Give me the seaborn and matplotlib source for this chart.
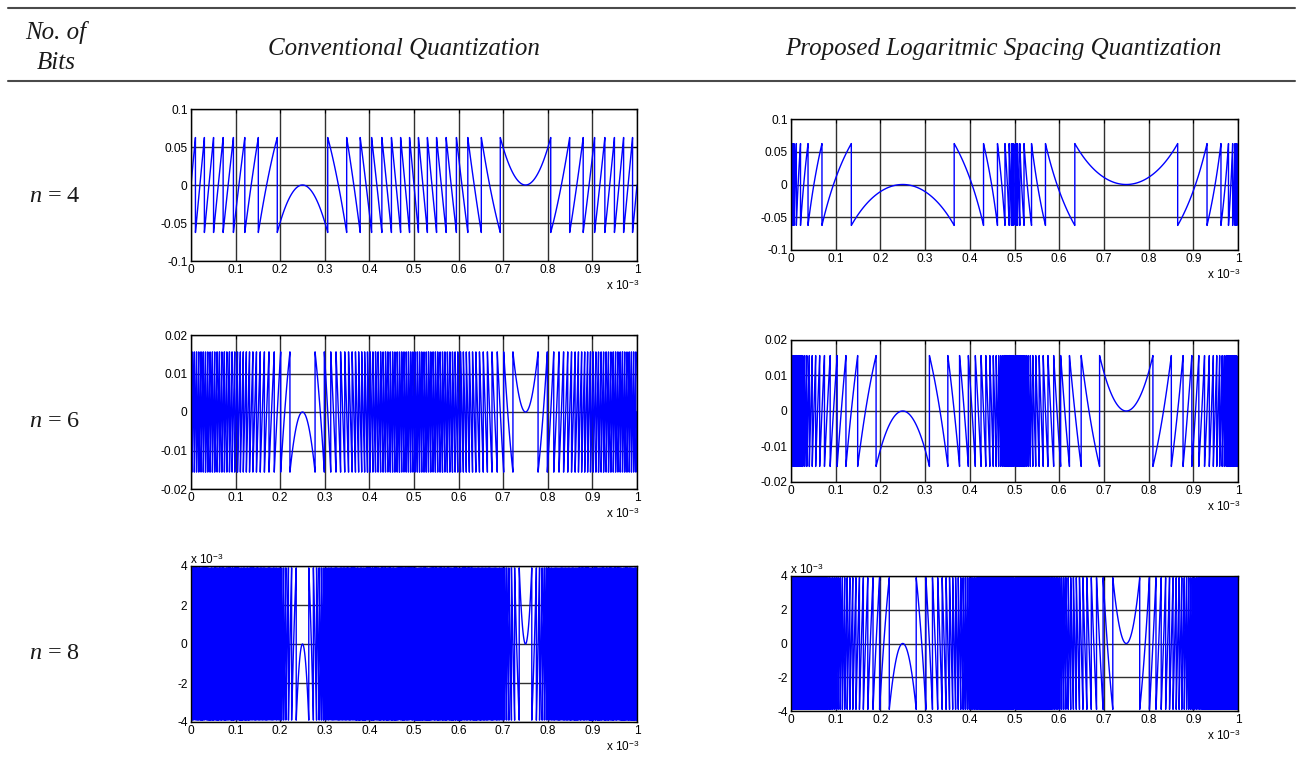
import numpy as np
import pandas as pd
import matplotlib
matplotlib.use("Agg")
import matplotlib.pyplot as plt
from matplotlib.lines import Line2D
import seaborn as sns

# ---------------- data ----------------
bits = [4, 6, 8]                       # rows: n = 4, 6, 8
signal_freq_hz = 1000.0                # one sine period fills the 1 ms window
window_s = 1e-3
log_floor = 0.01                       # proposed scheme: levels log-spaced over |x| in [0.01, 1]
n_samples = 200001

column_titles = ["Conventional Quantization",
                 "Proposed Logaritmic Spacing Quantization"]
header_bits = ["No. of", "Bits"]

ylims = [0.1, 0.02, 0.004]
ytick_values = [[-0.1, -0.05, 0, 0.05, 0.1],
                [-0.02, -0.01, 0, 0.01, 0.02],
                [-0.004, -0.002, 0, 0.002, 0.004]]
ytick_labels = [["-0.1", "-0.05", "0", "0.05", "0.1"],
                ["-0.02", "-0.01", "0", "0.01", "0.02"],
                ["-4", "-2", "0", "2", "4"]]
xtick_values_ms = [0, 0.1, 0.2, 0.3, 0.4, 0.5, 0.6, 0.7, 0.8, 0.9, 1.0]
xtick_labels = ["0", "0.1", "0.2", "0.3", "0.4", "0.5", "0.6", "0.7", "0.8", "0.9", "1"]
y_offset_rows = [False, False, True]   # which rows carry the "x 10^-3" y multiplier

# ---------------- quantization error signals ----------------
t = np.linspace(0.0, window_s, n_samples)
x = np.sin(2 * np.pi * signal_freq_hz * t)


def conventional_error(sig, nb):
    step = 2.0 / 2 ** nb
    return sig - step * np.round(sig / step)


def log_spacing_error(sig, nb):
    step = 2.0 / 2 ** nb
    mag = np.maximum(np.abs(sig), log_floor)
    c = np.sign(sig) * np.clip(1.0 + np.log10(mag) / (-np.log10(log_floor)), 0.0, 1.0)
    return c - step * np.round(c / step)


frames = []
for nb in bits:
    frames.append(pd.DataFrame({"t": t, "err": conventional_error(x, nb), "bits": nb, "scheme": 0}))
    frames.append(pd.DataFrame({"t": t, "err": log_spacing_error(x, nb), "bits": nb, "scheme": 1}))
df = pd.concat(frames, ignore_index=True)

# ---------------- style ----------------
sns.set_style("white")
plt.rcParams["font.family"] = ["Liberation Sans", "DejaVu Sans"]
plt.rcParams["mathtext.fontset"] = "custom"
plt.rcParams["mathtext.rm"] = "Liberation Serif"
plt.rcParams["mathtext.it"] = "Liberation Serif:italic"
plt.rcParams["mathtext.sf"] = "Liberation Sans"
plt.rcParams["path.simplify"] = False
plt.rcParams["agg.path.chunksize"] = 20000

W, H = 1301, 763
fig = plt.figure(figsize=(W / 100, H / 100), dpi=100)
fig.patch.set_facecolor("white")


def fx(px):
    return px / W


def fy(py):
    return 1 - py / H


# table rules
for yy in (7.5, 80.5):
    fig.add_artist(Line2D([fx(8), fx(1295)], [fy(yy), fy(yy)], transform=fig.transFigure,
                          color="#4a4a4a", lw=1.5))

serif_it = dict(family="Liberation Serif", style="italic", fontsize=18, color="#1a1a1a")
fig.text(fx(56), fy(39), header_bits[0], ha="center", va="baseline", **serif_it)
fig.text(fx(56), fy(69), header_bits[1], ha="center", va="baseline", **serif_it)
fig.text(fx(403.5), fy(55), column_titles[0], ha="center", va="baseline", **serif_it)
fig.text(fx(1003.5), fy(55), column_titles[1], ha="center", va="baseline", **serif_it)

# axes boxes in pixels: (left, top, right, bottom)
boxes = {
    (0, 0): (191, 109, 637, 261), (0, 1): (791, 119, 1238, 250),
    (1, 0): (191, 335, 637, 489), (1, 1): (791, 340, 1238, 482),
    (2, 0): (191, 566, 637, 722), (2, 1): (791, 576, 1238, 711),
}
row_label_baselines = [202, 427, 659]

for r, nb in enumerate(bits):
    fig.text(fx(29), fy(row_label_baselines[r]), r"$n$ = %d" % nb, ha="left", va="baseline",
             family="Liberation Serif", fontsize=17.5, color="#1a1a1a")
    for c in range(2):
        l, tp, rt, bt = boxes[(r, c)]
        ax = fig.add_axes([fx(l), fy(bt), fx(rt - l), (bt - tp) / H])
        sub = df[(df["bits"] == nb) & (df["scheme"] == c)]
        ax.grid(True, color="#303030", lw=1.0)
        ax.set_axisbelow(True)
        sns.lineplot(data=sub, x="t", y="err", ax=ax, color="#0000ff", lw=1.0,
                     estimator=None, sort=False, legend=False)
        ax.set_xlim(0, window_s)
        ax.set_ylim(-ylims[r], ylims[r])
        ax.set_xticks([v * 1e-3 for v in xtick_values_ms])
        ax.set_xticklabels(xtick_labels)
        ax.set_yticks(ytick_values[r])
        ax.set_yticklabels(ytick_labels[r])
        ax.set_xlabel("")
        ax.set_ylabel("")
        ax.tick_params(direction="in", length=3, width=0.8, labelsize=8.6, pad=2.5,
                       colors="black", top=True, right=True)
        for s in ax.spines.values():
            s.set_color("black")
            s.set_linewidth(1.0)
            s.set_visible(True)
        # x multiplier below the axis (right aligned)
        fig.text(fx(rt + 2), fy(bt + 29), r"x 10$^{\mathsf{-3}}$", ha="right", va="baseline",
                 fontsize=8.5, color="black")
        if y_offset_rows[r]:
            fig.text(fx(l - 1), fy(tp - 2.5), r"x 10$^{\mathsf{-3}}$", ha="left", va="baseline",
                     fontsize=8.5, color="black")

fig.savefig("out.png", dpi=100, facecolor="white")
